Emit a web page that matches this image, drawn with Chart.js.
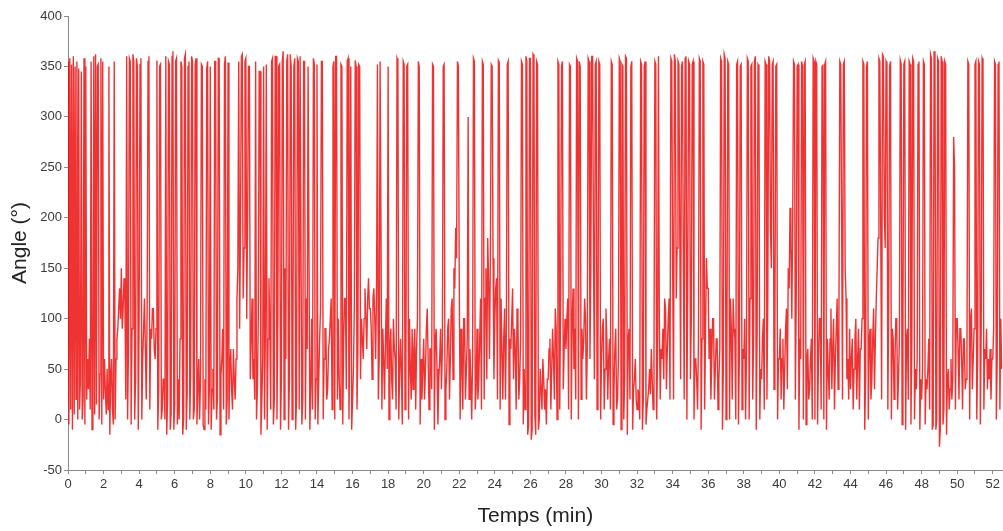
<!DOCTYPE html>
<html>
<head>
<meta charset="utf-8">
<title>Angle</title>
<script src="https://cdn.jsdelivr.net/npm/chart.js@4.4.1/dist/chart.umd.min.js"></script>
<style>
  html, body { margin: 0; padding: 0; background: #fff; }
  #wrap { width: 1003px; height: 531px; position: relative; }
</style>
</head>
<body>
<div id="wrap"><canvas id="grafAngle" width="1003" height="531"></canvas></div>
<script>
// pas d'échantillonnage (min) entre deux mesures d'angle
const pasMin = 0.05;

// angle (°) par tranche de temps, 20 mesures par minute (une ligne = une minute)
const angle00a10 = [
  355,-5,358,10,352,-10,360,5,350,20,355,0,348,10,40,345,0,20,358,-5,
  350,20,60,30,80,10,355,-10,-5,360,5,362,15,350,352,0,45,358,-5,355,
  20,60,30,5,50,10,350,-15,40,60,10,-5,355,0,60,80,90,110,130,100,
  150,90,110,140,120,20,360,0,70,358,355,-5,90,362,355,0,40,358,350,-10,
  100,352,358,0,60,90,120,70,20,110,355,360,10,90,80,110,110,70,60,90,
  356,-10,30,350,352,0,10,40,40,0,360,-15,20,355,352,-10,5,360,365,-10,
  15,355,358,-5,40,0,80,355,350,-15,0,358,362,-10,25,350,355,0,50,360,
  355,0,10,352,358,-5,30,60,0,40,352,350,-5,-10,40,10,348,355,-5,30,
  350,-10,30,50,10,355,355,0,20,358,358,-15,45,60,90,10,352,360,-5,20,
  354,0,50,70,30,10,70,40,20,60,120,150,355,90,190,360,362,120,170,355
];
const angle10a20 = [
  358,100,200,350,350,40,80,120,40,60,20,355,0,30,100,345,345,-15,20,60,
  350,0,90,352,-10,80,140,90,10,355,358,-5,20,360,360,0,100,350,352,-10,
  40,355,365,0,150,60,355,362,-10,40,362,350,0,90,350,358,-10,20,358,355,
  10,360,360,-5,20,355,355,0,120,70,350,350,-10,30,100,10,358,352,0,40,
  352,-5,40,80,110,355,355,0,60,90,90,20,30,70,80,100,120,10,350,355,
  0,360,360,20,100,40,10,352,350,-5,80,120,120,30,355,358,0,100,350,-10,
  20,50,110,356,350,10,70,352,350,40,100,80,60,100,130,100,70,120,140,110,
  110,90,40,120,130,100,60,130,352,20,60,355,355,10,90,60,20,80,120,50,
  350,0,70,90,40,20,100,70,60,10,358,355,0,50,80,40,-5,355,352,10,
  50,350,352,0,100,50,20,90,30,70,90,10,70,100,355,350,-5,60,20,50
];
const angle20a30 = [
  80,20,50,90,110,60,10,70,70,30,352,350,-10,80,90,50,-5,40,60,90,
  30,70,350,352,0,30,50,90,100,20,60,110,120,40,150,130,190,160,355,350,
  140,0,90,50,10,100,100,20,50,80,300,20,70,40,0,60,358,355,10,30,
  90,20,40,80,120,10,355,352,20,120,150,40,180,140,60,160,352,350,160,40,
  100,130,140,20,356,354,10,120,120,20,80,110,20,90,352,355,-5,80,70,100,
  130,40,90,70,10,110,100,20,40,80,355,352,-5,50,10,360,355,-15,-5,358,
  358,-20,-10,362,360,5,-15,355,352,-10,0,50,30,10,60,40,10,30,-5,40,
  40,70,80,10,50,90,60,20,110,90,0,355,352,10,120,350,355,30,70,100,
  70,100,120,10,352,350,0,100,130,50,90,20,358,355,0,355,350,20,90,60,
  80,120,100,20,70,358,355,60,150,360,360,156,40,352,355,10,80,355,352,0
];
const angle30a40 = [
  60,90,100,10,50,110,80,20,60,80,10,355,352,-5,30,70,90,10,20,60,
  358,355,-10,352,350,0,40,360,358,-15,80,90,20,350,355,-10,30,40,60,20,
  10,30,25,0,355,352,-10,20,350,355,-5,10,20,30,50,25,70,40,10,60,
  355,352,0,60,360,100,20,70,60,90,40,120,110,30,70,100,120,20,358,355,
  150,20,362,355,120,170,355,352,188,40,350,355,160,20,358,360,0,150,355,352,
  40,100,352,355,0,60,60,40,10,80,358,355,-10,80,355,352,10,90,160,130,
  130,60,90,20,60,100,100,20,50,80,80,10,40,70,358,355,-10,50,362,358,
  0,60,355,352,0,120,90,20,120,90,80,0,352,355,-5,60,350,352,10,70,
  60,100,0,60,358,355,0,120,350,352,20,80,355,360,-10,90,352,350,0,50,
  40,80,100,10,355,352,20,120,360,355,188,150,352,355,30,100,350,352,0,60
];
const angle40a50 = [
  60,90,20,60,80,10,50,90,110,30,150,130,210,170,100,200,355,352,20,120,
  350,352,-10,80,60,355,350,0,352,355,-5,60,70,20,30,60,80,0,358,355,
  0,355,352,-5,60,100,100,10,350,352,0,352,355,-10,80,50,20,80,110,30,
  70,100,10,60,90,120,30,100,355,352,200,20,352,355,150,120,40,60,20,90,
  30,60,80,10,50,80,100,20,60,90,10,70,70,100,355,352,-10,40,350,355,
  0,80,90,20,40,80,110,30,80,120,150,180,358,355,190,20,362,360,205,170,
  355,352,10,120,350,355,0,90,80,20,60,100,100,10,40,80,356,352,-5,100,
  352,355,-10,80,90,20,355,352,-5,80,358,355,0,50,30,60,352,355,-10,40,
  20,50,355,352,-5,40,30,50,80,10,362,358,-10,-5,365,360,-10,0,358,355,
  -27,-10,360,355,-5,10,355,352,-15,40,50,10,30,60,20,40,280,250,10,100
];
const angle50fin = [
  100,70,20,90,90,60,10,80,80,30,40,70,355,352,0,100,110,30,60,90,
  352,355,0,60,355,352,-5,90,358,355,10,70,60,90,30,60,40,70,20,60,
  60,90,355,352,0,60,352,355,10,100,50
];

// graduations
const yTicks = [-50, 0, 50, 100, 150, 200, 250, 300, 350, 400];
const xMax = 52.56;

const angles = [...angle00a10, ...angle10a20, ...angle20a30, ...angle30a40, ...angle40a50, ...angle50fin];
const points = angles.map((a, i) => ({ x: +(i * pasMin).toFixed(2), y: a }));

const fontTicks = { family: "'Liberation Sans', Arial, sans-serif", size: 13 };
const fontTitre = { family: "'Liberation Sans', Arial, sans-serif", size: 21 };

new Chart(document.getElementById("grafAngle"), {
  type: "line",
  data: {
    datasets: [
      {
        label: "Angle",
        data: points,
        borderColor: "rgba(235,0,0,0.8)",
        borderWidth: 1.4,
        pointRadius: 0,
        tension: 0,
        fill: false,
      },
    ],
  },
  options: {
    responsive: false,
    animation: false,
    layout: { padding: { top: 16, right: 0, left: 0, bottom: 0 } },
    plugins: { legend: { display: false }, tooltip: { enabled: false } },
    scales: {
      x: {
        type: "linear",
        min: 0,
        max: xMax,
        afterFit: (s) => { s.height = 61; },
        border: { display: true, color: "#8a8a8a" },
        grid: { drawOnChartArea: false, drawTicks: true, tickLength: 4, color: "#8a8a8a" },
        ticks: {
          stepSize: 1,
          includeBounds: false,
          autoSkip: false,
          maxRotation: 0,
          color: "#3a3a3a",
          font: fontTicks,
          padding: 3,
          callback: (v) => (Number.isInteger(v) && v % 2 === 0 ? String(v) : ""),
        },
        title: { display: true, text: "Temps (min)", color: "#222", font: fontTitre, padding: { top: 0, bottom: 2 } },
      },
      y: {
        min: -50,
        max: 400,
        afterFit: (s) => { s.width = 68; },
        afterBuildTicks: (s) => { s.ticks = yTicks.map((v) => ({ value: v })); },
        border: { display: true, color: "#8a8a8a" },
        grid: { drawOnChartArea: false, drawTicks: true, tickLength: 4, color: "#8a8a8a" },
        ticks: { autoSkip: false, color: "#3a3a3a", font: fontTicks, padding: 2 },
        title: { display: true, text: "Angle (°)", color: "#222", font: fontTitre, padding: { top: 8, bottom: 0 } },
      },
    },
  },
});
</script>
</body>
</html>
